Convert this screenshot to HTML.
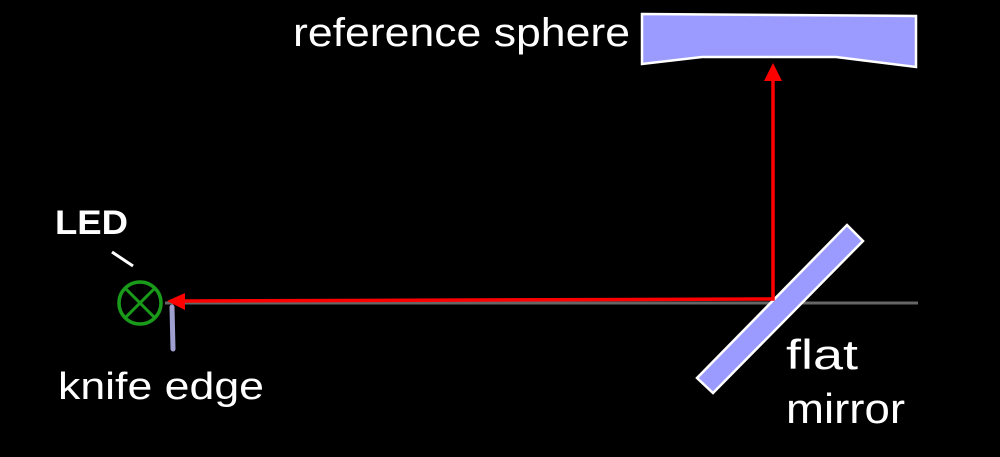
<!DOCTYPE html>
<html><head><style>html,body{margin:0;padding:0;background:#000;}svg{display:block}</style></head>
<body>
<svg width="1000" height="457" viewBox="0 0 1000 457" xmlns="http://www.w3.org/2000/svg" font-family="Liberation Sans, sans-serif" fill="#fff">
<rect width="1000" height="457" fill="#000"/>
<line x1="165" y1="303" x2="918" y2="303" stroke="#666" stroke-width="3"/>
<polygon points="642,14 916,16 916,67 836,57 773,57 702,57 642,64" fill="#9b9bff" stroke="#fff" stroke-width="2.5"/>
<polygon points="847,225 863,241 713,393 697,378" fill="#9b9bff" stroke="#fff" stroke-width="2.5"/>
<polyline points="183,301 773,299 773,80" fill="none" stroke="#f00" stroke-width="3.5"/>
<polygon points="773,63 764,81 782,81" fill="#f00"/>
<polygon points="167,301 185,293 185,310" fill="#f00"/>
<line x1="172" y1="307" x2="173" y2="349" stroke="#a0a0d0" stroke-width="5" stroke-linecap="round"/>
<circle cx="140" cy="303" r="21" fill="none" stroke="#1a9a1a" stroke-width="3.5"/>
<line x1="125" y1="288" x2="155" y2="318" stroke="#1a9a1a" stroke-width="3"/>
<line x1="155" y1="288" x2="125" y2="318" stroke="#1a9a1a" stroke-width="3"/>
<line x1="112" y1="252" x2="133" y2="266" stroke="#fff" stroke-width="3"/>
<text x="293" y="46" font-size="40" textLength="337" lengthAdjust="spacingAndGlyphs">reference sphere</text>
<text x="55" y="234" font-size="34" font-weight="bold" textLength="73" lengthAdjust="spacingAndGlyphs">LED</text>
<text x="58" y="399" font-size="38" textLength="206" lengthAdjust="spacingAndGlyphs">knife edge</text>
<text x="786" y="369" font-size="42" textLength="72" lengthAdjust="spacingAndGlyphs">flat</text>
<text x="786" y="423" font-size="42" textLength="119" lengthAdjust="spacingAndGlyphs">mirror</text>
</svg>
</body></html>
